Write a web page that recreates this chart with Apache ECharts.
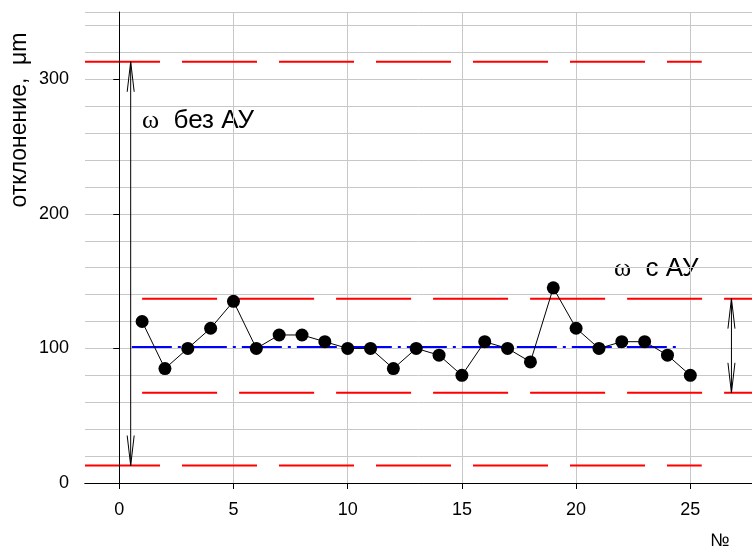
<!DOCTYPE html>
<html>
<head>
<meta charset="utf-8">
<script src="https://cdn.jsdelivr.net/npm/echarts@6/dist/echarts.min.js"></script>
<style>
  html, body { margin: 0; padding: 0; background: #fff; }
  #main { width: 752px; height: 551px; }
</style>
</head>
<body>
<div id="main"></div>
<script>
// номера измерений и отклонения
var nums = [1, 2, 3, 4, 5, 6, 7, 8, 9, 10, 11, 12, 13, 14, 15, 16, 17, 18, 19, 20, 21, 22, 23, 24, 25];
var deviation = [120, 85, 100, 115, 135, 100, 110, 110, 105, 100, 100, 85, 100, 95, 80, 105, 100, 90, 145, 115, 100, 105, 105, 95, 80];

// границы: без АУ (внешние) и с АУ (внутренние), среднее
var outerLimits = [13, 313];
var outerSpan = [-1.5, 25.5];
var innerLimits = [67, 137];
var innerSpan = [1, 27.7];
var meanValue = 101;
var meanSpan = [0.55, 24.6];

// стрелки: x, низ, верх
var arrows = [[0.5, 13, 313], [26.8, 67, 137]];

var xTicks = [0, 5, 10, 15, 20, 25];
var yTicks = [0, 100, 200, 300];

var font = 'Liberation Sans, Arial, sans-serif';

var myChart = echarts.init(document.getElementById('main'));

var hLine = function (value, span, color, dash) {
    return {
        type: 'line',
        data: [[span[0], value], [span[1], value]],
        symbol: 'none',
        silent: true,
        z: 2,
        lineStyle: { color: color, width: 2, type: dash }
    };
};

var renderArrow = function (params, api) {
    var top = api.coord([api.value(0), api.value(2)]);
    var bot = api.coord([api.value(0), api.value(1)]);
    var h = 30, w = 3.5;
    var st = { stroke: '#000', fill: null, lineWidth: 1 };
    return {
        type: 'group',
        children: [
            { type: 'line', shape: { x1: top[0], y1: top[1], x2: bot[0], y2: bot[1] }, style: st },
            { type: 'polyline', shape: { points: [[top[0] - w, top[1] + h], top, [top[0] + w, top[1] + h]] }, style: st },
            { type: 'polyline', shape: { points: [[bot[0] - w, bot[1] - h], bot, [bot[0] + w, bot[1] - h]] }, style: st }
        ]
    };
};

var series = [];
outerLimits.forEach(function (v) { series.push(hLine(v, outerSpan, '#ff0000', [75, 22])); });
innerLimits.forEach(function (v) { series.push(hLine(v, innerSpan, '#ff0000', [75, 22])); });
series.push(hLine(meanValue, meanSpan, '#0000ff', [40, 6, 3, 6]));

series.push({
    type: 'line',
    data: nums.map(function (n, i) { return [n, deviation[i]]; }),
    symbol: 'circle',
    symbolSize: 13,
    z: 5,
    itemStyle: { color: '#000' },
    lineStyle: { color: '#000', width: 1 }
});

series.push({
    type: 'custom',
    renderItem: renderArrow,
    data: arrows,
    silent: true,
    z: 4
});

var option = {
    animation: false,
    backgroundColor: '#fff',
    grid: { left: 85, top: 12, right: 0, bottom: 68 },
    xAxis: [{
        type: 'value',
        min: -1.5,
        max: 27.7,
        axisLine: { lineStyle: { color: '#000', width: 1 } },
        axisTick: { length: 6, customValues: xTicks, lineStyle: { color: '#000' } },
        axisLabel: { customValues: xTicks, margin: 18, color: '#000', fontSize: 18, fontFamily: font },
        splitLine: { show: true, lineStyle: { color: '#c8c8c8', width: 1 } }
    }, {
        type: 'value',
        position: 'top',
        min: -1.5,
        max: 27.7,
        axisLine: { show: true, lineStyle: { color: '#000', width: 1 } },
        axisTick: { show: false },
        axisLabel: { show: false },
        splitLine: { show: false }
    }],
    yAxis: [{
        type: 'value',
        min: 0,
        max: 350,
        interval: 100,
        z: 3,
        axisLine: { show: true, lineStyle: { color: '#000', width: 1 } },
        axisTick: { show: true, length: 6, customValues: yTicks, lineStyle: { color: '#000' } },
        axisLabel: { customValues: yTicks, margin: 16, color: '#000', fontSize: 18, fontFamily: font },
        splitLine: { show: false }
    }, {
        // только сетка через 20
        type: 'value',
        position: 'left',
        min: 0,
        max: 350,
        interval: 20,
        axisLine: { show: false },
        axisTick: { show: false },
        axisLabel: { show: false },
        splitLine: { show: true, lineStyle: { color: '#c8c8c8', width: 1 } }
    }],
    graphic: [{
        type: 'text',
        x: 20,
        y: 120,
        rotation: Math.PI / 2,
        style: { text: 'отклонение,  μm', fontSize: 23, fontFamily: font, fill: '#000', align: 'center', verticalAlign: 'middle' }
    }, {
        type: 'text',
        x: 720,
        y: 541,
        style: { text: '№', fontSize: 18, fontFamily: font, fill: '#000', align: 'center', verticalAlign: 'middle' }
    }, {
        type: 'text',
        x: 142,
        y: 121,
        style: {
            text: '{w|ω}  без АУ', fontSize: 26, fontFamily: font, fill: '#000', verticalAlign: 'middle',
            rich: { w: { fontSize: 26, fontFamily: 'Liberation Serif, serif' } }
        }
    }, {
        type: 'text',
        x: 614,
        y: 269,
        style: {
            text: '{w|ω}  с АУ', fontSize: 26, fontFamily: font, fill: '#000', verticalAlign: 'middle',
            rich: { w: { fontSize: 26, fontFamily: 'Liberation Serif, serif' } }
        }
    }],
    series: series
};

myChart.setOption(option);
</script>
</body>
</html>
